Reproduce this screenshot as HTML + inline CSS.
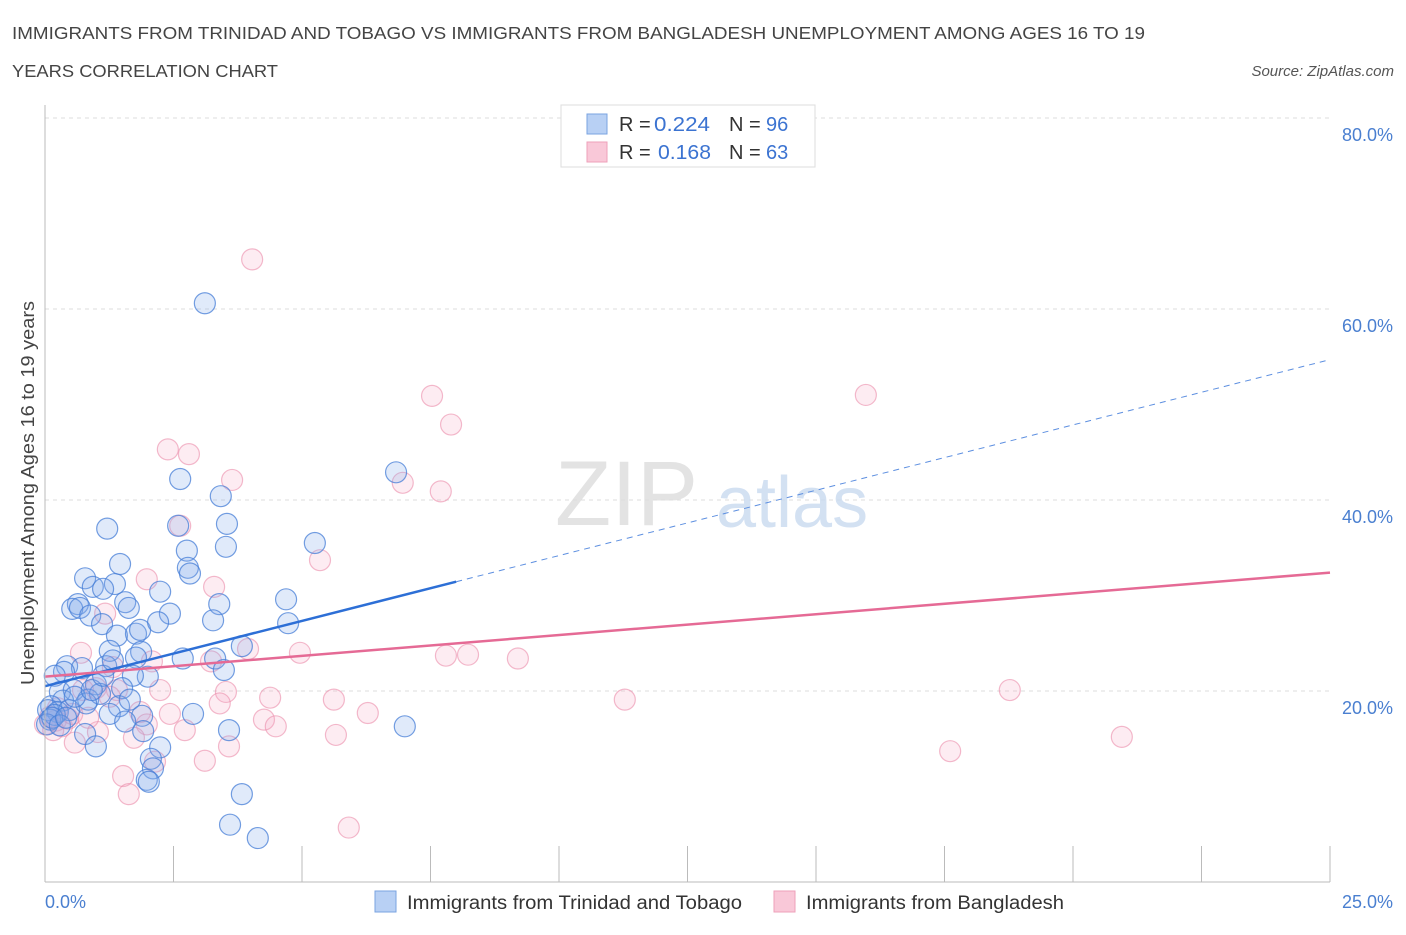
<!DOCTYPE html>
<html><head><meta charset="utf-8"><style>
body{margin:0;background:#fff;font-family:"Liberation Sans",sans-serif;}
svg text{font-family:"Liberation Sans",sans-serif;}
</style></head><body>
<svg id="chart" width="1406" height="930" viewBox="0 0 1406 930" xmlns="http://www.w3.org/2000/svg">
<text x="12" y="39" font-size="17.5" fill="#444" textLength="1133" lengthAdjust="spacingAndGlyphs">IMMIGRANTS FROM TRINIDAD AND TOBAGO VS IMMIGRANTS FROM BANGLADESH UNEMPLOYMENT AMONG AGES 16 TO 19</text>
<text x="12" y="77" font-size="17.5" fill="#444" textLength="266" lengthAdjust="spacingAndGlyphs">YEARS CORRELATION CHART</text>
<text x="1394" y="76" font-size="15" fill="#555" font-style="italic" text-anchor="end">Source: ZipAtlas.com</text>
<g id="grid"></g>
<text x="555" y="525" font-size="92" fill="#ddd" font-family="Liberation Serif" opacity="0.8">ZIP</text>
<text x="716" y="527" font-size="72" fill="#c9daf0" opacity="0.8">atlas</text>
<g id="points"></g>
<g id="lines"></g>
<line x1="45" y1="105" x2="45" y2="882" stroke="#bbb" stroke-width="1"/>
<line x1="45" y1="882" x2="1330" y2="882" stroke="#bbb" stroke-width="1"/>
<text transform="translate(34,493) rotate(-90)" font-size="18" fill="#444" text-anchor="middle" textLength="384" lengthAdjust="spacingAndGlyphs">Unemployment Among Ages 16 to 19 years</text>
<text x="45" y="908" font-size="18" fill="#4a7fd0">0.0%</text>
<text x="1393" y="908" font-size="18" fill="#4a7fd0" text-anchor="end">25.0%</text>
<g>
<rect x="561" y="105" width="254" height="62" fill="#fff" stroke="#ddd"/>
<rect x="587" y="114" width="20" height="20" fill="#b8d0f4" stroke="#7aa3e0"/>
<rect x="587" y="142" width="20" height="20" fill="#f9c8d8" stroke="#eea0ba"/>
<text x="619" y="131" font-size="20" fill="#333">R = </text><text x="654" y="131" font-size="20" fill="#3b73d1" textLength="56" lengthAdjust="spacingAndGlyphs">0.224</text>
<text x="729" y="131" font-size="20" fill="#333">N = </text><text x="766" y="131" font-size="20" fill="#3b73d1">96</text>
<text x="619" y="159" font-size="20" fill="#333">R = </text><text x="658" y="159" font-size="20" fill="#3b73d1" textLength="53" lengthAdjust="spacingAndGlyphs">0.168</text>
<text x="729" y="159" font-size="20" fill="#333">N = </text><text x="766" y="159" font-size="20" fill="#3b73d1">63</text>
</g>
<g>
<rect x="375" y="891" width="21" height="21" fill="#b8d0f4" stroke="#7aa3e0"/>
<text x="407" y="909" font-size="19" fill="#333" textLength="335" lengthAdjust="spacingAndGlyphs">Immigrants from Trinidad and Tobago</text>
<rect x="774" y="891" width="21" height="21" fill="#f9c8d8" stroke="#eea0ba"/>
<text x="806" y="909" font-size="19" fill="#333" textLength="258" lengthAdjust="spacingAndGlyphs">Immigrants from Bangladesh</text>
</g>
</svg>
<script>
const yTicks=[20,40,60,80];
const yTickLabels=["20.0%","40.0%","60.0%","80.0%"];
const xTicks=[0,2.5,5,7.5,10,12.5,15,17.5,20,22.5,25];
const blueX=[3.11,6.83,2.63,3.42,3.54,1.21,2.59,3.52,2.76,5.25,1.46,2.78,2.82,0.78,0.93,1.36,1.13,2.24,1.56,1.63,0.64,0.53,3.39,0.68,4.69,2.43,0.88,1.11,3.27,4.73,1.40,1.77,3.83,1.26,1.87,2.68,3.31,1.77,0.43,0.72,1.19,3.48,2.00,0.37,0.19,1.71,0.99,1.50,0.29,0.56,0.84,1.07,0.35,0.12,0.06,0.25,0.47,0.80,1.44,1.65,2.88,1.89,1.26,1.56,7.00,3.58,1.91,0.78,0.99,2.24,2.06,2.10,1.98,2.02,3.83,3.60,4.14,0.10,0.19,0.04,0.14,0.29,0.41,0.58,0.91,1.13,1.32,1.85,2.20];
const blueY=[60.6,42.9,42.2,40.4,37.5,37.0,37.3,35.1,34.7,35.5,33.3,32.9,32.3,31.8,30.9,31.2,30.7,30.4,29.3,28.7,29.1,28.6,29.1,28.7,29.6,28.1,27.9,27.0,27.4,27.1,25.8,26.0,24.7,24.2,24.1,23.4,23.4,23.5,22.6,22.4,22.6,22.2,21.5,22.0,21.6,21.6,20.7,20.3,19.9,20.1,19.1,19.7,19.0,18.4,18.0,17.8,18.0,18.7,18.4,19.1,17.6,17.4,17.6,16.8,16.3,15.9,15.8,15.5,14.2,14.1,12.9,11.9,10.7,10.5,9.2,6.0,4.6,17.0,17.5,16.5,17.2,16.4,17.2,19.4,20.1,21.6,23.2,26.4,27.2];
const pinkX=[4.03,7.53,15.97,7.90,2.39,2.80,3.64,7.70,6.96,2.63,5.35,1.98,3.29,1.17,0.70,1.32,2.08,3.23,3.95,4.96,7.80,8.23,9.20,18.77,2.24,3.52,4.38,5.62,11.28,0.74,0.99,1.40,3.40,1.85,2.43,6.28,1.98,2.72,4.26,4.49,1.03,5.66,0.58,1.73,3.58,17.61,20.95,3.11,2.14,1.52,1.63,5.91,0.10,0.21,0.33,0.45,0.00,0.25,0.16,0.53,1.26,0.84];
const pinkY=[65.2,50.9,51.0,47.9,45.3,44.8,42.1,40.9,41.8,37.3,33.7,31.7,30.9,28.1,24.0,22.5,23.1,23.1,24.4,24.0,23.7,23.8,23.4,20.1,20.1,19.9,19.3,19.1,19.1,20.1,20.3,20.1,18.7,17.8,17.6,17.7,16.5,15.9,17.0,16.3,15.7,15.4,14.6,15.1,14.2,13.7,15.2,12.7,12.6,11.1,9.2,5.7,17.3,16.9,16.3,17.1,16.5,18.2,15.9,17.6,19.4,17.2];
const blueTrend=[20.5,54.7]; const blueSolidEnd=8.0;
const pinkTrend=[21.5,32.4];
const NS="http://www.w3.org/2000/svg";
function sx(v){return 45+v/25*1285;}
function sy(v){return 882-v*9.55;}
function mk(tag,attrs,parent){const e=document.createElementNS(NS,tag);for(const k in attrs)e.setAttribute(k,attrs[k]);parent.appendChild(e);return e;}
const grid=document.getElementById('grid');
yTicks.forEach((t,i)=>{
 const l=mk('line',{x1:45,x2:1330,y1:sy(t),y2:sy(t),stroke:'#ddd','stroke-dasharray':'4,4'},grid);
 
 
 const tx=mk('text',{x:1393,y:sy(t)+23,'font-size':18,fill:'#4a7fd0','text-anchor':'end'},grid);
 tx.textContent=yTickLabels[i];
 
 
});
xTicks.forEach(t=>{
 const l=mk('line',{x1:sx(t),x2:sx(t),y1:846,y2:882,stroke:'#bbb'},grid);
 
 
});
const pts=document.getElementById('points');
pinkX.forEach((x,i)=>{
 const c=mk('circle',{cx:sx(x),cy:sy(pinkY[i]),r:10.5,fill:'rgba(244,170,195,0.22)',stroke:'rgba(235,140,170,0.6)','stroke-width':1.2},pts);
 
 
});
blueX.forEach((x,i)=>{
 const c=mk('circle',{cx:sx(x),cy:sy(blueY[i]),r:10.5,fill:'rgba(130,170,235,0.25)',stroke:'rgba(70,125,215,0.75)','stroke-width':1.2},pts);
 
 
});
const lines=document.getElementById('lines');
function trendAt(tr,x){return tr[0]+(tr[1]-tr[0])*x/25;}
let l1=mk('line',{x1:sx(0),y1:sy(trendAt(blueTrend,0)),x2:sx(blueSolidEnd),y2:sy(trendAt(blueTrend,blueSolidEnd)),stroke:'#2d6fd6','stroke-width':2.5},lines);


let l2=mk('line',{x1:sx(blueSolidEnd),y1:sy(trendAt(blueTrend,blueSolidEnd)),x2:sx(25),y2:sy(trendAt(blueTrend,25)),stroke:'#5d8fe0','stroke-width':1,'stroke-dasharray':'6,5'},lines);


let l3=mk('line',{x1:sx(0),y1:sy(trendAt(pinkTrend,0)),x2:sx(25),y2:sy(trendAt(pinkTrend,25)),stroke:'#e56a95','stroke-width':2.5},lines);


</script>
</body></html>
